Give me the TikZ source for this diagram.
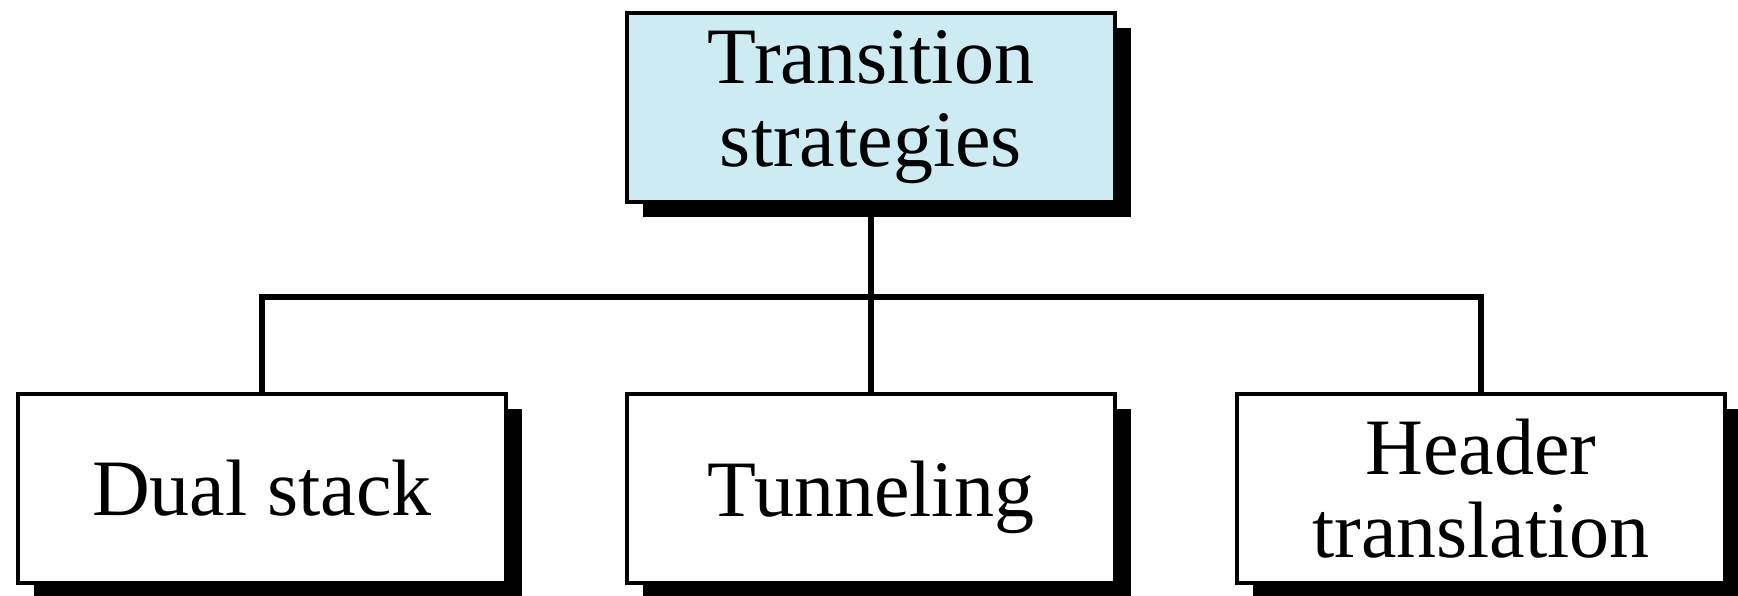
\documentclass[tikz,border=0pt]{standalone}
\usepackage{fontspec}
\setmainfont{Liberation Serif}
\usetikzlibrary{shadows}
\definecolor{headfill}{RGB}{204,235,242}
\tikzset{
  box/.style={draw=black, line width=3.5pt, fill=white, inner sep=0pt,
    minimum width=488pt, minimum height=189pt, align=center,
    font=\fontsize{80}{83}\selectfont,
    drop shadow={shadow xshift=16pt, shadow yshift=-15pt, fill=black, opacity=1}},
  conn/.style={draw=black, line width=6.5pt, line join=miter}
}
\begin{document}
\begin{tikzpicture}[x=1pt,y=-1pt]
  \useasboundingbox (0,0) rectangle (1738,596);
  % root and the three strategies
  \node[box, fill=headfill] (top) at (871,107.5) {Transition\\strategies};
  \node[box] (dual) at (262,488.5) {Dual stack};
  \node[box, text depth=0pt] (tunnel) at (871,488.5) {Tunneling};
  \node[box] (header) at (1481,488.5) {Header\\translation};
  % tree connectors
  \coordinate (bus) at (871,297);
  \draw[conn] (top.south) -- (bus);
  \draw[conn] (dual.north) |- (bus) -| (header.north);
  \draw[conn] (bus) -- (tunnel.north);
\end{tikzpicture}
\end{document}
